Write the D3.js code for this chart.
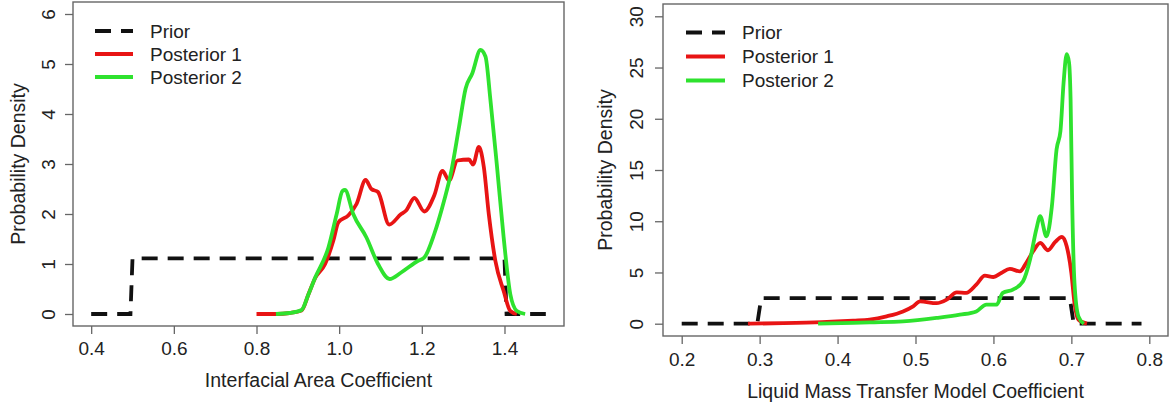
<!DOCTYPE html>
<html>
<head>
<meta charset="utf-8">
<script src="https://cdn.jsdelivr.net/npm/d3@7"></script>
<style>
  body { margin: 0; background: #fff; }
  svg { display: block; font-family: "Liberation Sans", Arial, sans-serif; }
</style>
</head>
<body>
<svg width="1175" height="407"></svg>
<script>
// ---- data ----
const legendLabels = ["Prior", "Posterior 1", "Posterior 2"];
const seriesColors = ["#111", "#e81414", "#2ee22e"];

// left panel: Interfacial Area Coefficient
const leftXTicks = [0.4, 0.6, 0.8, 1.0, 1.2, 1.4];
const leftYTicks = [0, 1, 2, 3, 4, 5, 6];
const leftPrior = [[0.4, 0], [0.495, 0], [0.5, 1.111], [1.4, 1.111], [1.405, 0], [1.5, 0]];
const leftPost1 = [[0.80, 0], [0.85, 0], [0.88, 0.02], [0.909, 0.07], [0.926, 0.4], [0.942, 0.72],
  [0.966, 1.0], [0.986, 1.47], [0.998, 1.83], [1.022, 1.97], [1.042, 2.2], [1.064, 2.68],
  [1.078, 2.5], [1.094, 2.44], [1.121, 1.79], [1.15, 2.0], [1.162, 2.07], [1.182, 2.32],
  [1.206, 2.05], [1.23, 2.37], [1.25, 2.86], [1.266, 2.67], [1.286, 3.07], [1.314, 3.09],
  [1.324, 2.99], [1.338, 3.34], [1.35, 2.94], [1.362, 2.0], [1.378, 1.06], [1.398, 0.46],
  [1.414, 0.06], [1.43, 0]];
const leftPost2 = [[0.847, 0], [0.88, 0.02], [0.909, 0.08], [0.926, 0.4], [0.942, 0.73],
  [0.974, 1.33], [0.994, 2.0], [1.008, 2.46], [1.014, 2.48], [1.034, 2.0], [1.066, 1.53],
  [1.094, 1.0], [1.122, 0.70], [1.15, 0.83], [1.19, 1.06], [1.206, 1.13], [1.23, 1.6],
  [1.254, 2.27], [1.27, 2.8], [1.29, 3.74], [1.306, 4.51], [1.322, 4.81], [1.342, 5.28],
  [1.354, 5.15], [1.366, 4.28], [1.382, 2.94], [1.398, 1.53], [1.414, 0.4], [1.43, 0.06],
  [1.45, 0]];

// right panel: Liquid Mass Transfer Model Coefficient
const rightXTicks = [0.2, 0.3, 0.4, 0.5, 0.6, 0.7, 0.8];
const rightYTicks = [0, 5, 10, 15, 20, 25, 30];
const rightPrior = [[0.2, 0], [0.297, 0], [0.302, 2.5], [0.698, 2.5], [0.703, 0], [0.79, 0]];
const rightPost1 = [[0.285, 0], [0.33, 0.05], [0.38, 0.15], [0.42, 0.3], [0.441, 0.4],
  [0.463, 0.72], [0.484, 1.2], [0.497, 1.7], [0.506, 2.18], [0.527, 2.0], [0.54, 2.35],
  [0.553, 3.06], [0.565, 3.0], [0.578, 3.81], [0.589, 4.69], [0.6, 4.56], [0.61, 4.95],
  [0.621, 5.35], [0.634, 5.11], [0.642, 5.93], [0.651, 7.07], [0.66, 7.89], [0.67, 7.17],
  [0.679, 7.95], [0.688, 8.47], [0.694, 7.56], [0.7, 4.95], [0.704, 2.02], [0.709, 0.39],
  [0.72, 0]];
const rightPost2 = [[0.375, 0], [0.42, 0.08], [0.441, 0.13], [0.484, 0.23], [0.527, 0.56],
  [0.557, 0.88], [0.578, 1.2], [0.591, 1.86], [0.604, 1.86], [0.612, 3.0], [0.625, 3.32],
  [0.638, 4.14], [0.647, 6.26], [0.655, 9.19], [0.66, 10.49], [0.668, 8.53], [0.675, 11.47],
  [0.681, 17.0], [0.686, 18.8], [0.69, 23.5], [0.694, 26.3], [0.697, 25.5], [0.699, 21.9],
  [0.701, 12.1], [0.704, 3.98], [0.709, 0.72], [0.716, 0]];

const svg = d3.select("svg");

/* draws one R-style density panel */
function panel(opt) {
    const g = svg.append("g");
    const b = opt.box;

    const x = d3.scaleLinear().domain(opt.xDomain).range([b.left, b.right]);
    const y = d3.scaleLinear().domain(opt.yDomain).range([b.bottom, b.top]);

    const line = d3.line()
        .x((d) => x(d[0]))
        .y((d) => y(d[1]));

    // prior (dashed, straight steps)
    g.append("path")
        .datum(opt.prior)
        .attr("fill", "none")
        .attr("stroke", seriesColors[0])
        .attr("stroke-width", 3.8)
        .attr("stroke-dasharray", "16,10")
        .attr("d", line);

    [opt.post1, opt.post2].forEach((s, i) => {
        g.append("path")
            .datum(s)
            .attr("fill", "none")
            .attr("stroke", seriesColors[i + 1])
            .attr("stroke-width", 3.8)
            .attr("stroke-linejoin", "round")
            .attr("d", line.curve(d3.curveMonotoneX));
        line.curve(d3.curveLinear);
    });

    // box
    g.append("rect")
        .attr("x", b.left)
        .attr("y", b.top)
        .attr("width", b.right - b.left)
        .attr("height", b.bottom - b.top)
        .attr("fill", "none")
        .attr("stroke", "#666")
        .attr("stroke-width", 1.4);

    // x axis
    const xa = g.append("g")
        .attr("transform", `translate(0,${b.bottom})`)
        .call(d3.axisBottom(x).tickValues(opt.xTicks).tickSize(8).tickSizeOuter(0)
            .tickFormat(d3.format(".1f")));
    xa.select(".domain").remove();
    xa.selectAll("line").attr("stroke", "#666").attr("stroke-width", 1.3);
    xa.selectAll("text")
        .attr("y", opt.xLabelY - b.bottom)
        .attr("dy", null)
        .attr("font-size", 19)
        .attr("fill", "#222");

    // y axis (labels rotated, R style)
    const ya = g.append("g")
        .attr("transform", `translate(${b.left},0)`)
        .call(d3.axisLeft(y).tickValues(opt.yTicks).tickSize(8).tickSizeOuter(0)
            .tickFormat(d3.format("d")));
    ya.select(".domain").remove();
    ya.selectAll("line").attr("stroke", "#666").attr("stroke-width", 1.3);
    ya.selectAll("text")
        .attr("x", null)
        .attr("dy", null)
        .attr("text-anchor", "middle")
        .attr("transform", `translate(${opt.yLabelX - b.left},0) rotate(-90)`)
        .attr("font-size", 19)
        .attr("fill", "#222");

    // titles
    g.append("text")
        .attr("x", (b.left + b.right) / 2)
        .attr("y", opt.xTitleY)
        .attr("text-anchor", "middle")
        .attr("font-size", 19.5)
        .attr("fill", "#222")
        .text(opt.xTitle);

    g.append("text")
        .attr("transform", `translate(${opt.yTitleX},${(b.top + b.bottom) / 2}) rotate(-90)`)
        .attr("text-anchor", "middle")
        .attr("font-size", 19.5)
        .attr("fill", "#222")
        .text("Probability Density");

    // legend
    const lg = g.append("g");
    legendLabels.forEach((lab, i) => {
        const ly = opt.legend.y + i * opt.legend.step;
        lg.append("line")
            .attr("x1", opt.legend.x1)
            .attr("x2", opt.legend.x2)
            .attr("y1", ly)
            .attr("y2", ly)
            .attr("stroke", seriesColors[i])
            .attr("stroke-width", 3.8)
            .attr("stroke-dasharray", i === 0 ? "16,10" : null);
        lg.append("text")
            .attr("x", opt.legend.tx)
            .attr("y", ly)
            .attr("dy", "0.35em")
            .attr("font-size", 19)
            .attr("fill", "#222")
            .text(lab);
    });
}

panel({
    box: { left: 73, right: 564, top: 2, bottom: 326 },
    xDomain: [0.356, 1.544],
    yDomain: [-0.24, 6.24],
    xTicks: leftXTicks,
    yTicks: leftYTicks,
    prior: leftPrior,
    post1: leftPost1,
    post2: leftPost2,
    xLabelY: 355,
    yLabelX: 55,
    xTitleY: 387,
    yTitleX: 25,
    xTitle: "Interfacial Area Coefficient",
    legend: { x1: 95, x2: 133, tx: 150, y: 31, step: 23 }
});

panel({
    box: { left: 663, right: 1168, top: 4, bottom: 336 },
    xDomain: [0.176, 0.824],
    yDomain: [-1.2, 31.2],
    xTicks: rightXTicks,
    yTicks: rightYTicks,
    prior: rightPrior,
    post1: rightPost1,
    post2: rightPost2,
    xLabelY: 366,
    yLabelX: 643,
    xTitleY: 398,
    yTitleX: 612,
    xTitle: "Liquid Mass Transfer Model Coefficient",
    legend: { x1: 686, x2: 725, tx: 742, y: 32.5, step: 24 }
});
</script>
</body>
</html>
